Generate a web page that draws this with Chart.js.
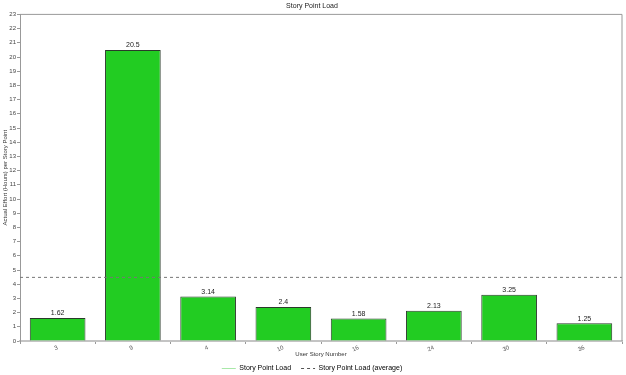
<!DOCTYPE html>
<html>
<head>
<meta charset="utf-8">
<script src="https://cdn.jsdelivr.net/npm/chart.js@4"></script>
<style>
  body { margin: 0; background: #fff; }
  #wrap { width: 626px; height: 375px; }
</style>
</head>
<body>
<div id="wrap"><canvas id="loadChart" width="626" height="375"></canvas></div>
<script>
const storyNumbers = ['3', '9', '4', '10', '16', '24', '30', '36'];
const effortPerPoint = [1.62, 20.5, 3.14, 2.4, 1.58, 2.13, 3.25, 1.25];
const averageLoad = 4.48;
const yTicks = [0, 23];

const font = 'Arial, "Liberation Sans", sans-serif';

// value labels above each bar
const barLabels = {
  id: 'barLabels',
  afterDatasetsDraw(chart) {
    const ctx = chart.ctx;
    const meta = chart.getDatasetMeta(0);
    ctx.save();
    ctx.font = '7px ' + font;
    ctx.fillStyle = '#222';
    ctx.textAlign = 'center';
    ctx.textBaseline = 'bottom';
    meta.data.forEach((bar, i) => {
      ctx.fillText(String(effortPerPoint[i]), bar.x, bar.y - 1);
    });
    ctx.restore();
  }
};

// dashed average line + plot frame
const averageLine = {
  id: 'averageLine',
  afterDatasetsDraw(chart) {
    const { ctx, chartArea } = chart;
    const y = chart.scales.y.getPixelForValue(averageLoad);
    ctx.save();
    ctx.strokeStyle = '#777';
    ctx.lineWidth = 1;
    ctx.setLineDash([3, 3]);
    ctx.beginPath();
    ctx.moveTo(chartArea.left, y);
    ctx.lineTo(chartArea.right, y);
    ctx.stroke();
    ctx.setLineDash([]);
    ctx.strokeStyle = '#999';
    ctx.beginPath();
    ctx.moveTo(chartArea.left, chartArea.top);
    ctx.lineTo(chartArea.right, chartArea.top);
    ctx.lineTo(chartArea.right, chartArea.bottom);
    ctx.stroke();
    ctx.restore();
  }
};

new Chart(document.getElementById('loadChart'), {
  type: 'bar',
  data: {
    labels: storyNumbers,
    datasets: [{
      label: 'Story Point Load',
      data: effortPerPoint,
      backgroundColor: '#22cc22',
      borderColor: '#2a3a2a',
      borderWidth: 1,
      categoryPercentage: 0.74,
      barPercentage: 1
    }]
  },
  options: {
    responsive: false,
    animation: false,
    layout: { padding: { left: 2, right: 4, top: 0, bottom: -7 } },
    plugins: {
      title: {
        display: true,
        text: 'Story Point Load',
        color: '#222',
        font: { family: font, size: 7, weight: 'normal' },
        padding: { top: 2, bottom: 4 }
      },
      legend: {
        position: 'bottom',
        labels: {
          font: { family: font, size: 7 },
          color: '#333',
          usePointStyle: true,
          pointStyleWidth: 14,
          boxHeight: 7,
          padding: 10,
          generateLabels: () => [
            { text: 'Story Point Load', pointStyle: 'line', strokeStyle: '#a8e8a8', fillStyle: '#a8e8a8', lineWidth: 1, lineDash: [] },
            { text: 'Story Point Load (average)', pointStyle: 'line', strokeStyle: '#555', fillStyle: '#555', lineWidth: 1, lineDash: [3, 3] }
          ]
        }
      },
      tooltip: { enabled: false }
    },
    scales: {
      x: {
        grid: { drawOnChartArea: false, drawTicks: true, tickLength: 3, color: '#999' },
        border: { color: '#c4c4c4', width: 2 },
        ticks: {
          font: { family: font, size: 6 },
          color: '#555',
          minRotation: 25,
          maxRotation: 25,
          padding: 0
        },
        title: {
          display: true,
          text: 'User Story Number',
          font: { family: font, size: 6 },
          color: '#333',
          padding: { top: 0, bottom: -3 }
        },
        afterFit(scale) { scale.height = 14; }
      },
      y: {
        min: yTicks[0],
        max: yTicks[1],
        grid: { drawOnChartArea: false, drawTicks: true, tickLength: 3, color: '#999' },
        border: { color: '#999', width: 1 },
        ticks: {
          stepSize: 1,
          font: { family: font, size: 6 },
          color: '#444',
          padding: 1
        },
        title: {
          display: true,
          text: 'Actual Effort (Hours) per Story Point',
          font: { family: font, size: 6 },
          color: '#333',
          padding: 0
        },
        afterFit(scale) { scale.width = 18; }
      }
    }
  },
  plugins: [barLabels, averageLine]
});
</script>
</body>
</html>
